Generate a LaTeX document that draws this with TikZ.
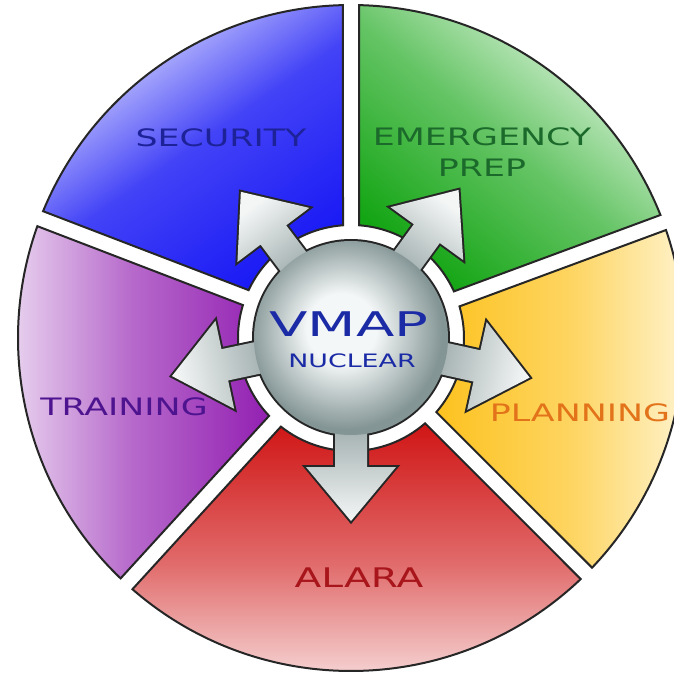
\documentclass[tikz,border=0pt]{standalone}
\usepackage{fontspec}
\newfontfamily\labelfont[FakeStretch=1.45]{DejaVu Sans}
\newfontfamily\hubfont[FakeStretch=1.65]{DejaVu Sans}
\definecolor{secdark}{HTML}{1A1AF5}
\definecolor{seclight}{HTML}{E4E4FF}
\definecolor{sectext}{HTML}{1E2299}
\definecolor{emdark}{HTML}{14A514}
\definecolor{emlight}{HTML}{E8F7E8}
\definecolor{emtext}{HTML}{1B6A2B}
\definecolor{plandark}{HTML}{FDC21F}
\definecolor{planlight}{HTML}{FFF8DE}
\definecolor{plantext}{HTML}{E2731A}
\definecolor{aladark}{HTML}{D01515}
\definecolor{alalight}{HTML}{FAEAEA}
\definecolor{alatext}{HTML}{A8161B}
\definecolor{traindark}{HTML}{9320B2}
\definecolor{trainlight}{HTML}{F0E2F4}
\definecolor{traintext}{HTML}{4E148F}
\definecolor{hublight}{HTML}{F4F7F7}
\definecolor{hubdark}{HTML}{849595}
\definecolor{arrowlight}{HTML}{F4F6F6}
\definecolor{arrowdark}{HTML}{8A9A9A}
\definecolor{vmaptext}{HTML}{1B2BA6}
\pgfdeclareradialshading{hubshade}{\pgfpoint{-3bp}{3bp}}{color(0bp)=(hublight); color(9bp)=(hublight); color(25bp)=(hubdark); color(50bp)=(hubdark)}

\begin{document}
\begin{tikzpicture}[x=1pt, y=1pt,
    sector/.style={draw=black!85, line width=2pt},
    arrowbody/.style={preaction={draw=black!85, line width=4pt}, top color=arrowlight, bottom color=arrowdark},
    hub/.style={circle, minimum size=194pt, inner sep=0pt, shading=hubshade},
    lbl/.style={font=\labelfont\fontsize{24}{31}\selectfont, align=center, inner sep=0pt}]
    \useasboundingbox (-351,-336) rectangle (322,338);
    % sectors
    \shade[sector, top color=emlight, bottom color=emdark, middle color=emdark!62!emlight, shading angle=-40]
        (24.36:113) -- (21.68:333) arc[start angle=21.68, end angle=88.62, radius=333]
        -- (85.94:113) arc[start angle=85.94, end angle=24.36, radius=113] -- cycle;
    \shade[sector, top color=seclight, bottom color=secdark, middle color=secdark!80!seclight, shading angle=35]
        (94.06:113) -- (91.38:333) arc[start angle=91.38, end angle=157.62, radius=333]
        -- (154.94:113) arc[start angle=154.94, end angle=94.06, radius=113] -- cycle;
    \shade[sector, top color=trainlight, bottom color=traindark, middle color=traindark!62!trainlight, shading angle=90]
        (163.06:113) -- (160.38:333) arc[start angle=160.38, end angle=226.22, radius=333]
        -- (223.54:113) arc[start angle=223.54, end angle=163.06, radius=113] -- cycle;
    \shade[sector, top color=alalight, bottom color=aladark, middle color=aladark!60!alalight, shading angle=180]
        (231.66:113) -- (228.98:333) arc[start angle=228.98, end angle=313.62, radius=333]
        -- (310.94:113) arc[start angle=310.94, end angle=231.66, radius=113] -- cycle;
    \shade[sector, top color=planlight, bottom color=plandark, middle color=plandark!65!planlight, shading angle=-90]
        (-40.94:113) -- (-43.62:333) arc[start angle=-43.62, end angle=18.92, radius=333]
        -- (16.24:113) arc[start angle=16.24, end angle=-40.94, radius=113] -- cycle;
    % hub rim and arrows
    \fill[black!85] (0,0) circle (99);
    \begin{scope}[rotate=127]
        \shade[arrowbody, shading angle=37] (60,-16) -- (129,-16) -- (129,-45) -- (183,0) -- (129,45) -- (129,16) -- (60,16) -- cycle;
    \end{scope}
    \begin{scope}[rotate=54]
        \shade[arrowbody, shading angle=-36] (60,-16) -- (129,-16) -- (129,-45) -- (183,0) -- (129,45) -- (129,16) -- (60,16) -- cycle;
    \end{scope}
    \begin{scope}[rotate=-12.5]
        \shade[arrowbody, shading angle=-102.5] (60,-16) -- (129,-16) -- (129,-45) -- (183,0) -- (129,45) -- (129,16) -- (60,16) -- cycle;
    \end{scope}
    \begin{scope}[rotate=-90]
        \shade[arrowbody, shading angle=180] (60,-16) -- (129,-16) -- (129,-45) -- (183,0) -- (129,45) -- (129,16) -- (60,16) -- cycle;
    \end{scope}
    \begin{scope}[rotate=192]
        \shade[arrowbody, shading angle=102] (60,-16) -- (129,-16) -- (129,-45) -- (183,0) -- (129,45) -- (129,16) -- (60,16) -- cycle;
    \end{scope}
    \node[hub] (hub) at (0,0) {};
    \node[inner sep=0pt, text=vmaptext, font=\hubfont\fontsize{34}{34}\selectfont] (vmap) at (-2,14) {VMAP};
    \node[inner sep=0pt, text=vmaptext, font=\labelfont\fontsize{18.5}{18.5}\selectfont] (nuclear) at (1,-23) {NUCLEAR};
    % labels
    \node[lbl, text=sectext] (security) at (-130,200) {SECURITY};
    \node[lbl, text=emtext] (emergency) at (131,186) {EMERGENCY\\PREP};
    \node[lbl, text=traintext] (training) at (-227,-69) {TRAINING};
    \node[lbl, text=plantext] (planning) at (229,-75) {PLANNING};
    \node[lbl, text=alatext, font=\labelfont\fontsize{27}{31}\selectfont] (alara) at (8,-240) {ALARA};
\end{tikzpicture}
\end{document}
